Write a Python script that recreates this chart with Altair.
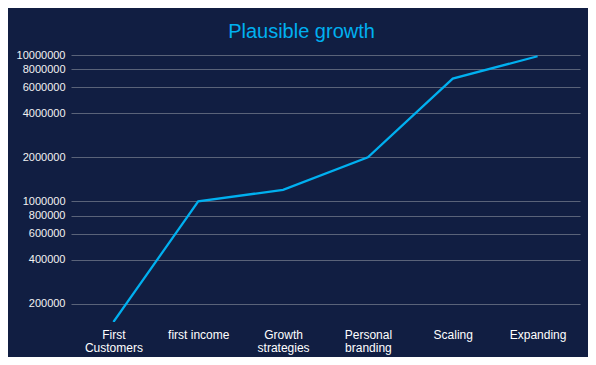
import altair as alt
import pandas as pd

categories = ["First Customers", "first income", "Growth strategies",
              "Personal branding", "Scaling", "Expanding"]
values = [150000, 1000000, 1200000, 2000000, 6900000, 9800000]
y_ticks = [200000, 400000, 600000, 800000, 1000000,
           2000000, 4000000, 6000000, 8000000, 10000000]

df = pd.DataFrame({"stage": categories, "value": values})

FONT = "Liberation Sans"
BG = "#111e42"

chart = alt.Chart(df).mark_line(
    color="#00b0f0", strokeWidth=2.25, clip=True
).encode(
    x=alt.X("stage:N", sort=categories, title=None,
            scale=alt.Scale(paddingInner=0, paddingOuter=0.5),
            axis=alt.Axis(
                labelAngle=0, ticks=False, domain=False, grid=False,
                labelColor="#ffffff", labelFont=FONT, labelFontSize=12,
                labelPadding=7, labelLineHeight=13, labelBaseline="top",
                labelExpr="datum.label == 'first income' ? datum.label : split(datum.label, ' ')",
            )),
    y=alt.Y("value:Q", title=None,
            scale=alt.Scale(type="log", domain=[150000, 10000000], nice=False),
            axis=alt.Axis(
                values=y_ticks, format="d", ticks=False, domain=False,
                grid=True, gridColor="#5a6379", gridWidth=1,
                labelColor="#f2f2f2", labelFont=FONT, labelFontSize=11,
                labelPadding=6,
            )),
).properties(
    width=509,
    height=267,
    autosize=alt.AutoSizeParams(type="none"),
    padding={"left": 63, "top": 47, "right": 8, "bottom": 35},
    background=BG,
    title=alt.TitleParams(
        "Plausible growth", color="#00b0f0", font=FONT, fontSize=20,
        fontWeight="normal", anchor="middle", dx=-24, offset=18, dy=27,
        baseline="alphabetic",
    ),
).configure_view(stroke=None)

chart.save("out.html", embed_options={"renderer": "svg", "actions": False})
